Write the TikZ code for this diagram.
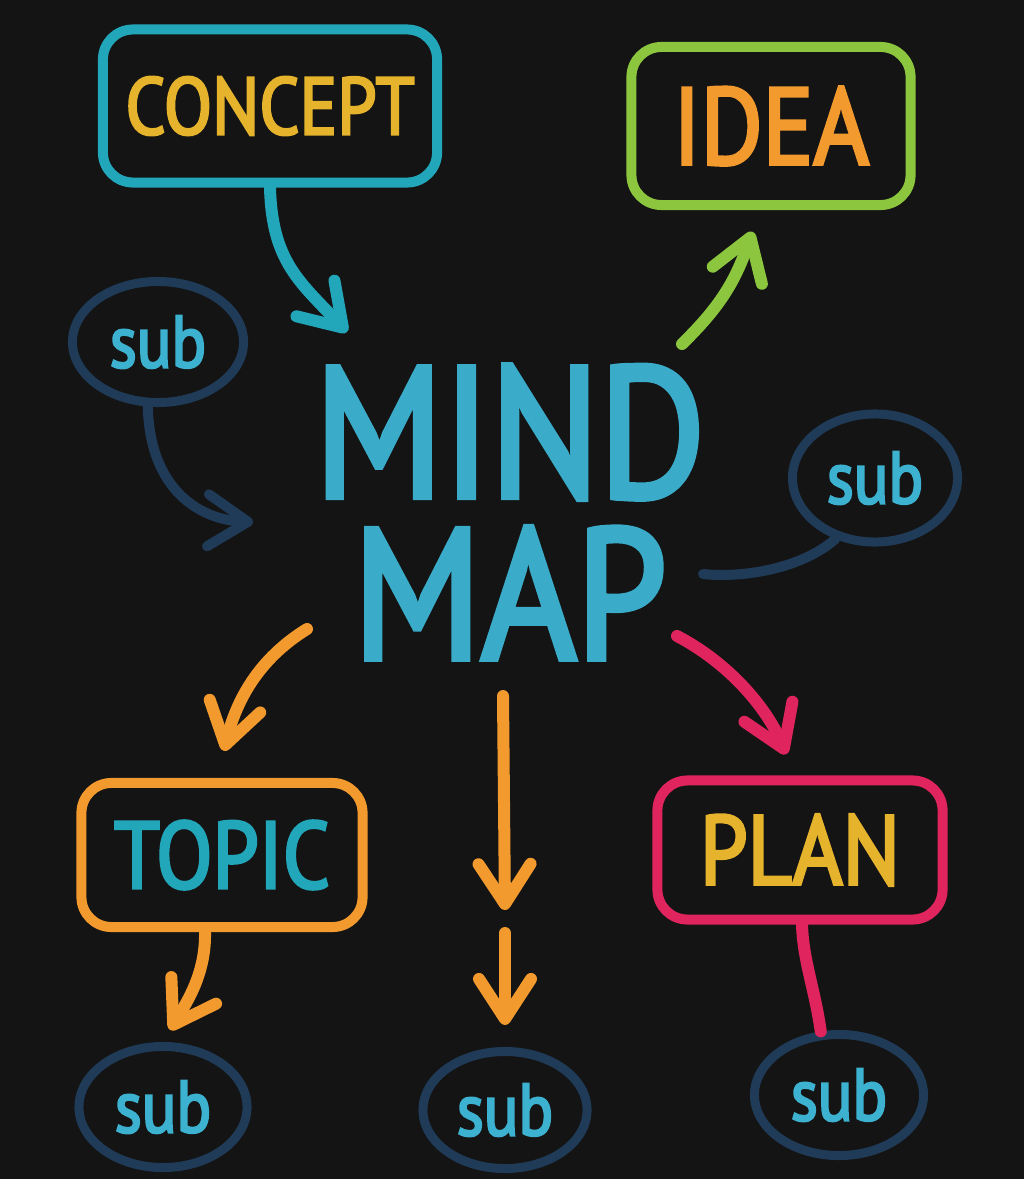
\documentclass[tikz,border=0pt]{standalone}
\usepackage{fontspec}
\setmainfont{PT Sans}[FakeStretch=0.87,FakeBold=3]
\usetikzlibrary{arrows.meta,positioning,shapes.geometric}

\definecolor{chalkbg}{HTML}{141414}
\definecolor{cpcyan}{HTML}{22A6BA}
\definecolor{cpyellow}{HTML}{E6B42C}
\definecolor{idgreen}{HTML}{8CC63F}
\definecolor{idorange}{HTML}{F29A2E}
\definecolor{mmcyan}{HTML}{3AABC8}
\definecolor{subnavy}{HTML}{1F3B58}
\definecolor{subcyan}{HTML}{3DB2D0}
\definecolor{plpink}{HTML}{E0245E}

\begin{document}
\begin{tikzpicture}[x=0.01cm,y=-0.01cm,
  >={Straight Barb[length=4mm,width=5.2mm,round]},
  box/.style={draw,rounded corners=3mm,line width=1mm,inner sep=0pt},
  bubble/.style={ellipse,draw=subnavy,line width=0.9mm,inner sep=0pt,text=subcyan,font=\fontsize{21}{21}\selectfont},
  link/.style={line width=1.2mm,line cap=round}]
\fill[chalkbg] (0,0) rectangle (1024,1179);
\useasboundingbox (0,0) rectangle (1024,1179);

% boxes
\node[box,draw=cpcyan,minimum width=3.34cm,minimum height=1.53cm,text=cpyellow,font=\fontsize{23}{23}\selectfont] (mm_concept) at (270,106) {\raisebox{-2pt}{CONCEPT}};
\node[box,draw=idgreen,minimum width=2.79cm,minimum height=1.58cm,text=idorange,font=\fontsize{31}{31}\selectfont] (mm_idea) at (771,126) {IDEA};
\node[box,draw=idorange,minimum width=2.81cm,minimum height=1.44cm,text=cpcyan,font=\fontsize{27}{27}\selectfont] (mm_topic) at (222,855) {TOPIC};
\node[box,draw=plpink,minimum width=2.85cm,minimum height=1.39cm,text=cpyellow,font=\fontsize{28}{28}\selectfont] (mm_plan) at (800,850) {PLAN};
\node[text=mmcyan,align=center,inner sep=0pt,font=\fontsize{53}{46}\selectfont] (mm_core) at (510,512) {MIND\\MAP};

% sub bubbles
\node[bubble,minimum width=1.71cm,minimum height=1.21cm] (mm_sub1) at (158,342) {sub};
\node[bubble,minimum width=1.65cm,minimum height=1.28cm] (mm_sub2) at (875,478) {sub};
\node[bubble,minimum width=1.68cm,minimum height=1.21cm] (mm_sub3) at (163,1107) {sub};
\node[bubble,minimum width=1.64cm,minimum height=1.17cm] (mm_sub4) at (505,1110) {sub};
\node[bubble,minimum width=1.69cm,minimum height=1.21cm] (mm_sub5) at (839,1095) {sub};

\coordinate (mm_gap_a) at (505,910);
\coordinate (mm_gap_b) at (505,933);

% links
\draw[link,->,cpcyan] (mm_concept.south) .. controls (272,262) and (300,282) .. ([shift={(-163,-180)}]mm_core.center);
\draw[link,->,idgreen,shorten >=2.3mm] ([shift={(172,-168)}]mm_core.center) .. controls (722,305) and (736,279) .. ([shift={(-11,0)}]mm_idea.south);
\draw[link,->,idorange,shorten >=2.8mm] ([shift={(-203,117)}]mm_core.center) .. controls (257,660) and (236,702) .. ([shift={(-5,0)}]mm_topic.north);
\draw[link,->,plpink,shorten >=2.3mm] ([shift={(167,124)}]mm_core.center) .. controls (727,662) and (766,706) .. ([shift={(-5,0)}]mm_plan.north);
\draw[link,->,idorange] ([shift={(-7,184)}]mm_core.center) -- (mm_gap_a);
\draw[link,->,idorange,shorten >=2.2mm] (mm_gap_b) -- (mm_sub4.north);
\draw[link,->,idorange,shorten >=1.4mm] ([shift={(-17,0)}]mm_topic.south) .. controls (206,975) and (185,1005) .. (mm_sub3.north);
\draw[link,plpink] ([shift={(2,0)}]mm_plan.south) .. controls (803,960) and (815,990) .. (mm_sub5.106);
\draw[link,->,subnavy,line width=1mm] (mm_sub1.261) .. controls (150,490) and (200,520) .. ([shift={(-257,10)}]mm_core.center);
\draw[link,subnavy,line width=1mm] (mm_sub2.237) .. controls (800,570) and (740,578) .. ([shift={(193,62)}]mm_core.center);
\end{tikzpicture}
\end{document}
